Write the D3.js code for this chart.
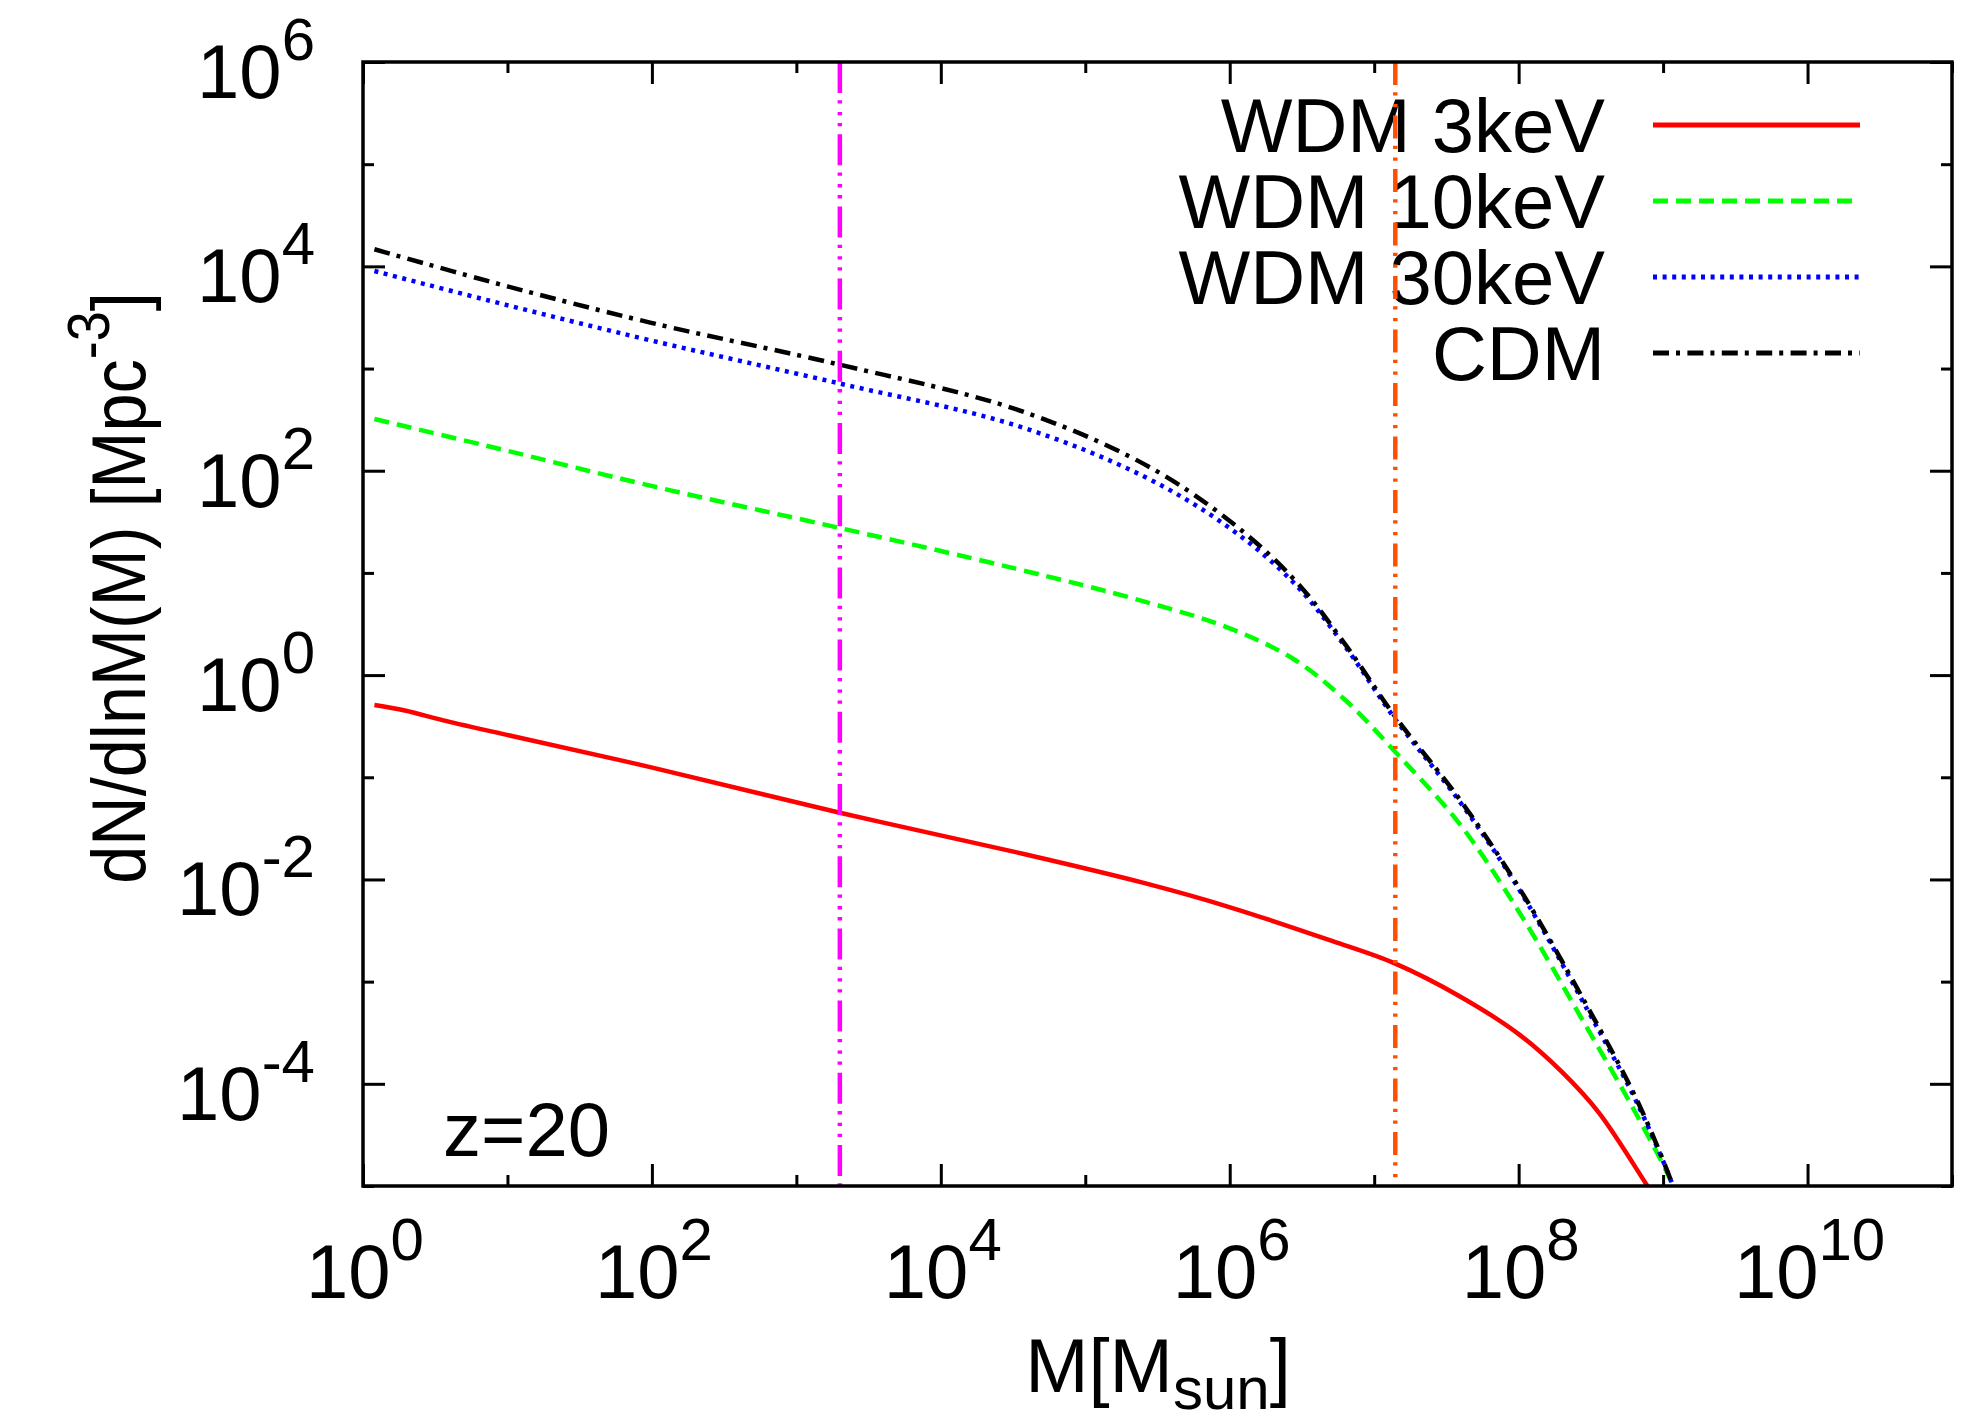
<!DOCTYPE html>
<html>
<head>
<meta charset="utf-8">
<script src="https://cdn.jsdelivr.net/npm/d3@7"></script>
<style>
  body { margin: 0; background: #fff; }
  text { font-family: "Liberation Sans", Arial, Helvetica, sans-serif; fill: #000; }
</style>
</head>
<body>
<div class="chart"></div>
<script>
var margin = {top: 62, right: 36, bottom: 232, left: 363};
var width = 1988 - margin.left - margin.right;
var height = 1418 - margin.top - margin.bottom;

// data (halo mass function at z=20)
let wdm3Mass   = [1.2, 1.95, 3.6, 9.9, 99, 2.0e3, 3.3e4, 2.5e5, 9.8e5, 5.1e6, 1.4e7, 3.9e7, 9.9e7, 2.0e8, 3.6e8, 7.8e8, 9.0e8];
let wdm3Value  = [0.51, 0.45, 0.36, 0.26, 0.125, 0.045, 0.0185, 0.0093, 0.0054, 0.0025, 0.0015, 7.2e-4, 3.1e-4, 1.3e-4, 5.2e-5, 1.0e-5, 7.4e-6];

let haloMass   = [1.2, 9.9, 99, 2.0e3, 3.3e4, 2.5e5, 9.8e5, 2.8e6, 6.3e6, 1.4e7, 3.9e7, 9.9e7, 2.95e8, 6.6e8, 1.17e9, 1.3e9];
let wdm10Value = [321, 157, 71, 27.5, 11.0, 5.3, 2.9, 1.42, 0.57, 0.177, 0.035, 0.005, 3.6e-4, 4.9e-5, 1.0e-5, 6e-6];
let wdm30Value = [9000, 4180, 1880, 713, 278, 89, 28, 7.9, 1.9, 0.37, 0.058, 0.0083, 5.5e-4, 6.5e-5, 1.0e-5, 6e-6];
let cdmValue   = [14700, 6400, 2800, 1090, 400, 118, 33, 8.6, 2.0, 0.39, 0.061, 0.0086, 5.9e-4, 6.9e-5, 1.0e-5, 6e-6];

let seriesNames = ['WDM 3keV', 'WDM 10keV', 'WDM 30keV', 'CDM'];
let verticalMarks = [2.0e3, 1.4e7];

let xMajor = [1e0, 1e2, 1e4, 1e6, 1e8, 1e10];
let xMinor = [1e1, 1e3, 1e5, 1e7, 1e9, 1e11];
let yMajor = [1e-4, 1e-2, 1e0, 1e2, 1e4, 1e6];
let yMinor = [1e-5, 1e-3, 1e-1, 1e1, 1e3, 1e5];

let lineStyles = [
  {color: '#ff0000', dash: null},
  {color: '#00ff00', dash: '15,8'},
  {color: '#0000ff', dash: '4,5.6'},
  {color: '#000000', dash: '16,7,4,7.4'}
];
let markStyles = [
  {color: '#ff00ff', dash: '31,7.3,3.3,8.3,3.3,7.7,3.3,8'},
  {color: '#ff5000', dash: '23,7.3,3.3,8.3,3.3,8.3'}
];

let seriesData = [
  d3.zip(wdm3Mass, wdm3Value),
  d3.zip(haloMass, wdm10Value),
  d3.zip(haloMass, wdm30Value),
  d3.zip(haloMass, cdmValue)
];

let svg = d3.select('.chart')
  .append('svg')
  .attr('width', width + margin.left + margin.right)
  .attr('height', height + margin.top + margin.bottom)
  .style('display', 'block')
  .append('g')
  .attr('transform', `translate(${margin.left}, ${margin.top})`)
;

//scales

let xScale = d3.scaleLog()
  .domain([1e0, 1e11])
  .range([0, width]);

let yScale = d3.scaleLog()
  .domain([1e-5, 1e6])
  .range([height, 0]);

function tickAxis(axisFn, scale, values, size, transform) {
  let g = svg.append('g')
    .attr('transform', transform)
    .call(axisFn(scale).tickValues(values).tickSize(size).tickSizeOuter(0).tickFormat(''));
  g.select('.domain').remove();
  g.selectAll('.tick line')
    .attr('stroke', '#000')
    .attr('stroke-width', 3);
  return g;
}

[[xMajor, -22], [xMinor, -11]].forEach(([vals, size]) => {
  tickAxis(d3.axisBottom, xScale, vals, size, `translate(0, ${height})`);
  tickAxis(d3.axisTop, xScale, vals, size, 'translate(0, 0)');
});
[[yMajor, -22], [yMinor, -11]].forEach(([vals, size]) => {
  tickAxis(d3.axisLeft, yScale, vals, size, 'translate(0, 0)');
  tickAxis(d3.axisRight, yScale, vals, size, `translate(${width}, 0)`);
});

function powerLabel(text) {
  text.append('tspan').text('10');
  text.append('tspan')
    .attr('dy', -38)
    .style('font-size', '60px')
    .text(d => Math.round(Math.log10(d)));
}

svg.append('g')
  .selectAll('text')
  .data(xMajor)
  .enter()
  .append('text')
  .attr('x', d => xScale(d) + 2)
  .attr('y', height + 112)
  .style('text-anchor', 'middle')
  .style('font-size', '76px')
  .call(powerLabel);

svg.append('g')
  .selectAll('text')
  .data(yMajor)
  .enter()
  .append('text')
  .attr('x', -48)
  .attr('y', d => yScale(d) + 36)
  .style('text-anchor', 'end')
  .style('font-size', '76px')
  .call(powerLabel);

//scales END

// axis titles
let xTitle = svg.append('text')
  .attr('x', 795)
  .attr('y', height + 206)
  .style('text-anchor', 'middle')
  .style('font-size', '76px');
xTitle.append('tspan').text('M[M');
xTitle.append('tspan').attr('dy', 17).style('font-size', '60px').text('sun');
xTitle.append('tspan').attr('dy', -17).text(']');

let yTitle = svg.append('text')
  .attr('transform', `translate(${145 - margin.left}, ${588 - margin.top}) rotate(-90) scale(0.9, 1)`)
  .style('text-anchor', 'middle')
  .style('font-size', '76px');
yTitle.append('tspan').text('dN/dlnM(M) [Mpc');
yTitle.append('tspan').attr('dy', -36).style('font-size', '60px').text('-3');
yTitle.append('tspan').attr('dy', 36).text(']');

svg.append('text')
  .attr('x', 80)
  .attr('y', height - 30)
  .style('font-size', '76px')
  .text('z=20');

// curves
svg.append('clipPath')
  .attr('id', 'plot-clip')
  .append('rect')
  .attr('width', width)
  .attr('height', height);

let line = d3.line()
  .x(d => xScale(d[0]))
  .y(d => yScale(d[1]))
  .curve(d3.curveCatmullRom.alpha(0.5));

svg.append('g')
  .attr('clip-path', 'url(#plot-clip)')
  .selectAll('path')
  .data(seriesData)
  .enter()
  .append('path')
  .attr('d', line)
  .attr('fill', 'none')
  .attr('stroke', (d, i) => lineStyles[i].color)
  .attr('stroke-width', 4.5)
  .attr('stroke-dasharray', (d, i) => lineStyles[i].dash);

// legend
let legend = svg.selectAll('.legend')
  .data(seriesNames)
  .enter()
  .append('g')
  .attr('class', 'legend')
  .attr('transform', (d, i) => `translate(0, ${63 + i * 76})`);

legend.append('text')
  .attr('x', 1242)
  .attr('y', 27)
  .style('text-anchor', 'end')
  .style('font-size', '76px')
  .text(d => d);

legend.append('line')
  .attr('x1', 1290)
  .attr('x2', 1497)
  .attr('stroke', (d, i) => lineStyles[i].color)
  .attr('stroke-width', 5)
  .attr('stroke-dasharray', (d, i) => lineStyles[i].dash);

// vertical marker lines
svg.append('g')
  .selectAll('line')
  .data(verticalMarks)
  .enter()
  .append('line')
  .attr('x1', d => xScale(d))
  .attr('x2', d => xScale(d))
  .attr('y1', 0)
  .attr('y2', height)
  .attr('stroke', (d, i) => markStyles[i].color)
  .attr('stroke-width', 4.5)
  .attr('stroke-dasharray', (d, i) => markStyles[i].dash);

// frame
svg.append('rect')
  .attr('width', width)
  .attr('height', height)
  .attr('fill', 'none')
  .attr('stroke', '#000')
  .attr('stroke-width', 3.5);
</script>
</body>
</html>
